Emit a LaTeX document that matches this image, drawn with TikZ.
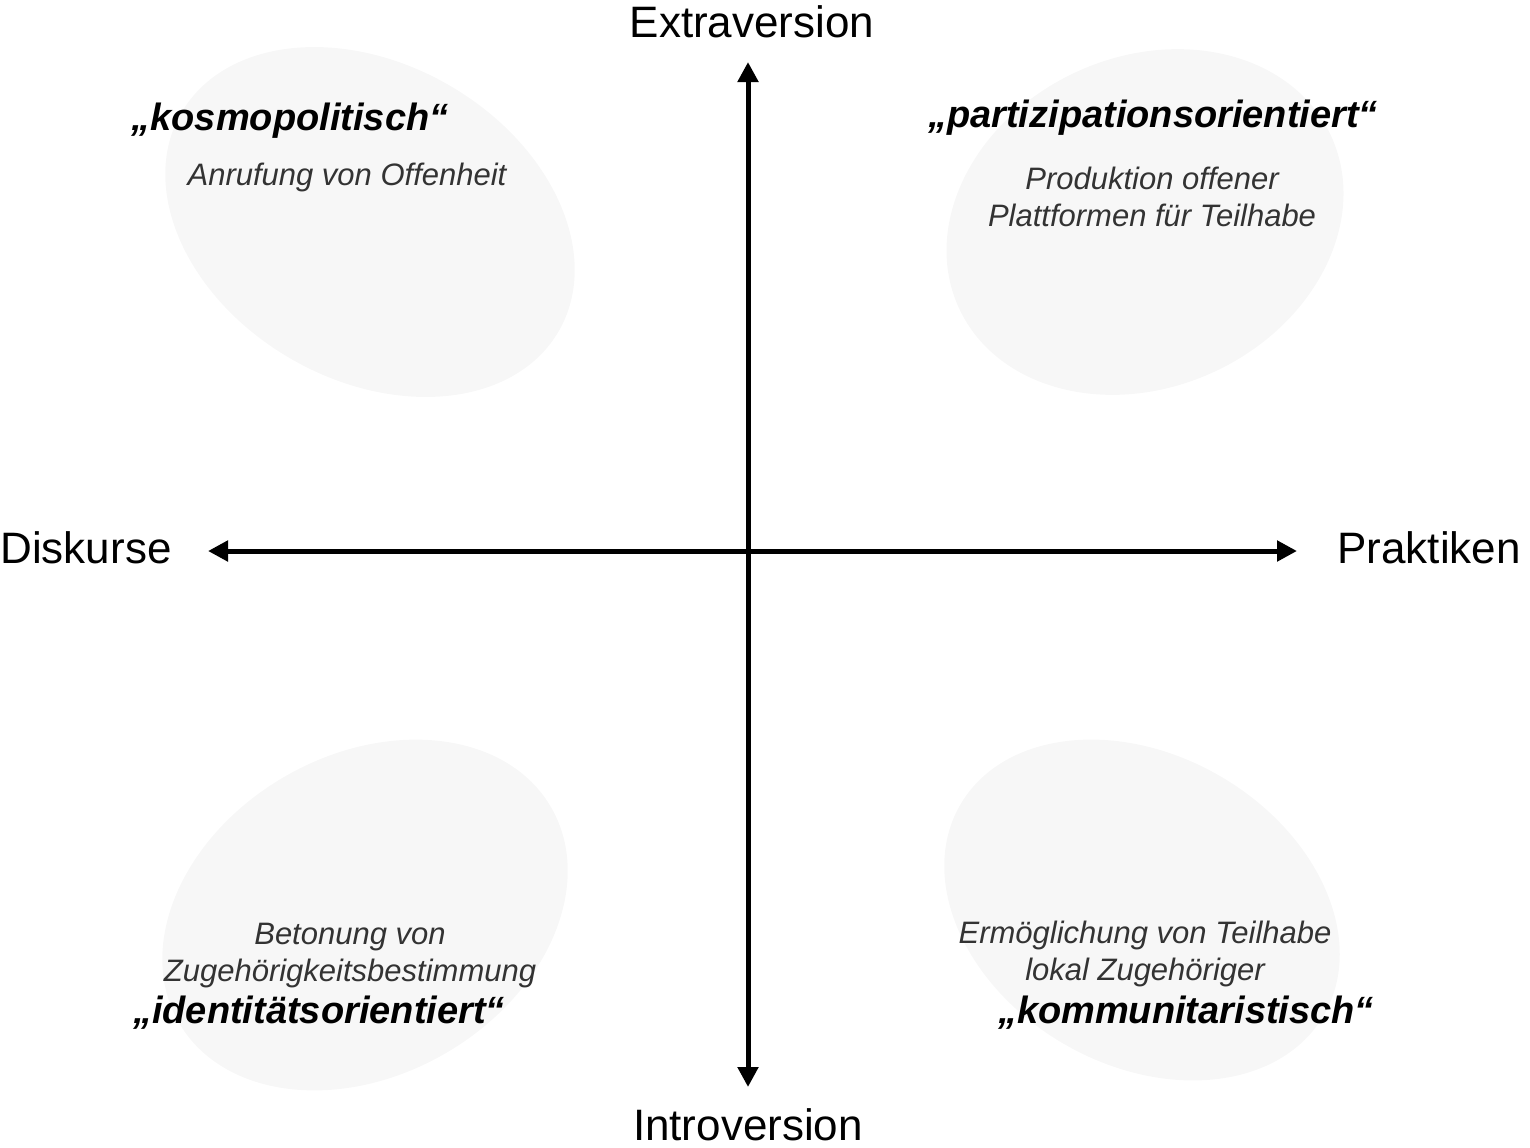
\documentclass[tikz,border=0pt]{standalone}
\usepackage{fontspec}
\setmainfont{Liberation Sans}
\usetikzlibrary{arrows.meta}
\definecolor{blobgray}{HTML}{F7F7F7}
\definecolor{notegray}{HTML}{333333}
\tikzset{
	axis/.style={line width=2.5pt, {Triangle[length=10pt,width=10pt]}-{Triangle[length=10pt,width=10pt]}},
	axislabel/.style={inner sep=0pt, font=\fontsize{22}{26}\selectfont},
	typelabel/.style={inner sep=0pt, anchor=base, font=\fontsize{19}{23}\selectfont\bfseries\itshape},
	note/.style={inner sep=0pt, anchor=base, align=center, text=notegray, font=\fontsize{15.5}{18.5}\selectfont\itshape},
	blob/.style={fill=blobgray},
}
\begin{document}
\begin{tikzpicture}[x=0.5pt, y=-0.5pt]
	\useasboundingbox (0,0) rectangle (1530,1147);
	
	%shaded areas
	\fill[blob, rotate around={-30:(370,222)}] (370,222) ellipse [x radius=218, y radius=158];
	\fill[blob, rotate around={25:(1145,222)}] (1145,222) ellipse [x radius=205, y radius=165];
	\fill[blob, rotate around={30:(365,915)}] (365,915) ellipse [x radius=215, y radius=160];
	\fill[blob, rotate around={-30:(1142,910)}] (1142,910) ellipse [x radius=210, y radius=155];
	
	%axes
	\coordinate (top) at (748,62);
	\coordinate (bottom) at (748,1087);
	\coordinate (left) at (208,551);
	\coordinate (right) at (1297,551);
	\draw[axis] (bottom) -- (top);
	\draw[axis] (left) -- (right);
	
	\node[axislabel, anchor=base] (extra) at (752,37) {Extraversion};
	\node[axislabel, anchor=base] (intro) at (748,1140) {Introversion};
	\node[axislabel, anchor=base east] (disk) at (172,563) {Diskurse};
	\node[axislabel, anchor=base west] (prak) at (1337,563) {Praktiken};
	
	%quadrants
	\node[typelabel] (kosmo) at (290,130) {„kosmopolitisch“};
	\node[note] (kosmonote) at (347,185) {Anrufung von Offenheit};
	
	\node[typelabel] (parti) at (1153,127) {„partizipationsorientiert“};
	\node[note] (partinote) at (1152,226) {Produktion offener\\Plattformen für Teilhabe};
	
	\node[note] (identnote) at (350,981) {Betonung von\\Zugehörigkeitsbestimmung};
	\node[typelabel] (ident) at (319,1023) {„identitätsorientiert“};
	
	\node[note] (kommunote) at (1145,980) {Ermöglichung von Teilhabe\\lokal Zugehöriger};
	\node[typelabel] (kommu) at (1186,1023) {„kommunitaristisch“};
\end{tikzpicture}
\end{document}
